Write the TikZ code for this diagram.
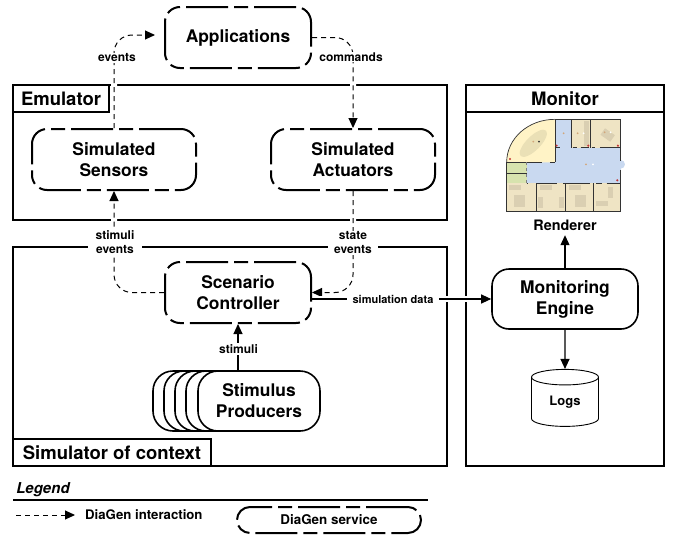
\documentclass[tikz,border=0pt]{standalone}
\usepackage{xcolor}
\usepackage{fontspec}
\setmainfont{TeX Gyre Heros}
\usetikzlibrary{arrows.meta,shapes.geometric}
\definecolor{planyellow}{HTML}{FFF3C6}
\definecolor{planblue}{HTML}{C9D9F0}
\definecolor{planbeige}{HTML}{EFE4C4}
\definecolor{plangreen}{HTML}{D7E3AE}
\definecolor{planfurn}{HTML}{DACFB2}
\definecolor{planrug}{HTML}{EAE0B6}
\tikzset{
  frame/.style={line width=2pt},
  titlebox/.style={draw,line width=2pt,fill=white,inner sep=0pt,font=\fontsize{18.5}{22}\selectfont\bfseries},
  service/.style={draw,line width=2pt,fill=white,rounded corners=15pt,inner sep=0pt,align=center,
    dash pattern=on 42pt off 6pt on 14pt off 6pt,font=\fontsize{17.4}{21}\selectfont\bfseries},
  plainbox/.style={draw,line width=1.6pt,fill=white,align=center,inner sep=0pt,
    font=\fontsize{17.4}{21}\selectfont\bfseries},
  lab/.style={fill=white,inner xsep=6pt,inner ysep=1pt,align=center,font=\fontsize{12}{14}\selectfont\bfseries},
  halo/.style={preaction={draw=white,line width=6pt,solid,arrows=-,shorten <=2pt,shorten >=2pt}},
  tip/.style={-{Triangle[length=10pt,width=9pt]}},
  flow/.style={tip,line width=1pt,dash pattern=on 5pt off 4pt,rounded corners=18pt},
  solidflow/.style={tip,line width=1.1pt},
}
\begin{document}
\begin{tikzpicture}[x=1pt,y=-1pt]
\useasboundingbox (0,0) rectangle (675,536);
% frames
\draw[frame] (13,85) rectangle (447,220);
\draw[frame] (13,247) rectangle (447,466);
\draw[frame] (466,85) rectangle (664,466);
\node[titlebox,minimum width=96pt,minimum height=27pt] (emutitle) at (61,98.5) {Emulator};
\node[titlebox,minimum width=198pt,minimum height=27pt] (simtitle) at (112,452.5) {Simulator of context};
\node[titlebox,minimum width=198pt,minimum height=27pt] (montitle) at (565,98.5) {Monitor};
% services
\node[service,minimum width=146pt,minimum height=61pt] (apps) at (238,37.5) {Applications};
\node[service,minimum width=164pt,minimum height=61pt] (sensors) at (114,159.5) {Simulated\\Sensors};
\node[service,minimum width=164pt,minimum height=61pt] (actuators) at (353,159.5) {Simulated\\Actuators};
\node[service,minimum width=146pt,minimum height=61pt] (ctrl) at (238,292.5) {Scenario\\Controller};
% producers
\foreach \i/\x in {1/214,2/225,3/236,4/247}
  \node[plainbox,rounded corners=20pt,minimum width=122pt,minimum height=60pt] (prod\i) at (\x,401) {};
\node[plainbox,rounded corners=20pt,minimum width=122pt,minimum height=60pt] (prod) at (259,401) {Stimulus\\Producers};
% monitor
\node[plainbox,rounded corners=17pt,minimum width=146pt,minimum height=60pt] (engine) at (565,299) {Monitoring\\Engine};
\node[font=\fontsize{14.4}{17}\selectfont\bfseries,inner sep=0pt,minimum height=20pt] (renderer) at (565,225) {Renderer};
\node[cylinder,shape border rotate=90,aspect=0.5,draw,line width=.9pt,fill=white,inner sep=0pt,
  minimum width=67pt,minimum height=57pt,font=\fontsize{13}{15}\selectfont\bfseries] (logs) at (565,402) {Logs};
% floor plan
\begin{scope}[shift={(460,75)},scale=0.3333]
\fill[planblue] (482,268) circle (13);
\fill[planblue] (285,133) rectangle (335,218);
\fill[planblue] (200,218) rectangle (482,325);
\fill[planyellow] (140,262) .. controls (140,190) and (205,133) .. (285,133) -- (285,262) -- cycle;
\fill[plangreen] (140,262) rectangle (200,325);
\fill[planbeige] (335,133) rectangle (482,218);
\fill[planbeige] (140,325) rectangle (482,410);
\fill[planrug,shift={(220,205)},rotate=45] (0,0) ellipse (54 and 21);
\fill[planfurn,shift={(443,180)},rotate=-35] (-18,-12) rectangle (18,12);
\foreach \xa/\ya/\xb/\yb in {147/330/183/345,163/360/195/395,240/330/275/345,233/365/248/398,296/365/313/398,
  328/330/363/345,345/360/377/395,445/335/460/368,408/377/443/393,372/138/387/213}
  \fill[planfurn] (\xa,\ya) rectangle (\xb,\yb);
\foreach \xa/\ya/\xb/\yb in {285/218/300/218,338/218/350/218,362/218/388/218,395/218/405/218,420/218/482/218,
  140/262/245/262,270/262/285/262,200/325/205/325,230/325/290/325,310/325/390/325,408/325/425/325,440/325/482/325,
  140/296/200/296,285/133/285/262,335/133/335/218,392/133/392/218,140/262/140/410,140/410/482/410,
  228/325/228/410,317/325/317/410,400/325/400/410,285/133/482/133,482/133/482/258,482/285/482/410}
  \draw[line width=.7pt,black!80] (\xa,\ya) -- (\xb,\yb);
\draw[line width=.7pt,black!80] (140,262) .. controls (140,190) and (205,133) .. (285,133);
\draw[line width=.7pt,black!50,dashed] (200,262) -- (200,325);
\foreach \x/\y in {150/252,290/212,385/212,474/212,472/316}
  \fill[red!70!black!80] (\x,\y) circle (3.5);
\foreach \x/\y in {220/200,311/175,353/175,434/172,378/268}
  \fill[brown!70] (\x,\y) circle (3);
\foreach \x/\y in {371/175,452/172,399/268}
  \fill[white] (\x,\y) circle (3);
\fill[black!80] (237,200) circle (3);
\end{scope}
% connectors
\draw[flow,halo,shorten >=9pt] (sensors.north) |- ([yshift=2.5pt]apps.west);
\draw[flow,halo] (apps.east) -| (actuators.north);
\draw[flow,halo] (ctrl.west) -| (sensors.south);
\draw[flow,halo] (actuators.south) |- (ctrl.east);
\draw[solidflow,halo] (ctrl.east |- engine.west) -- (engine.west);
\draw[solidflow] (ctrl.south |- prod.north) -- (ctrl.south);
\draw[solidflow] (engine.north) -- (renderer.south);
\draw[solidflow] (engine.south) -- (logs.north);
% connector labels
\node[lab] (eventslab) at (117,58) {events};
\node[lab] (commandslab) at (351,57) {commands};
\node[lab,inner xsep=8pt] (stimlab) at (115,242) {stimuli\\events};
\node[lab] (statelab) at (353,243) {state\\events};
\node[lab,font=\fontsize{11}{13}\selectfont\bfseries] (datalab) at (393,299) {simulation data};
\node[lab] (prodlab) at (238.5,349) {stimuli};
% legend
\node[font=\fontsize{15}{18}\selectfont\bfseries\itshape,inner sep=0pt] (legend) at (43,490) {Legend};
\coordinate (rulea) at (13,500);
\coordinate (ruleb) at (428,500);
\draw[line width=1.4pt] (rulea) -- (ruleb);
\coordinate (keya) at (16,515);
\coordinate (keyb) at (75,515);
\node[font=\fontsize{13.2}{16}\selectfont\bfseries,inner sep=0pt,anchor=west] (keylab) at (85,514.5) {DiaGen interaction};
\draw[flow] (keya) -- (keyb);
\node[service,minimum width=184pt,minimum height=26pt,rounded corners=13pt,font=\fontsize{13.4}{16}\selectfont\bfseries] (keybox) at (329,520) {DiaGen service};
\end{tikzpicture}
\end{document}
